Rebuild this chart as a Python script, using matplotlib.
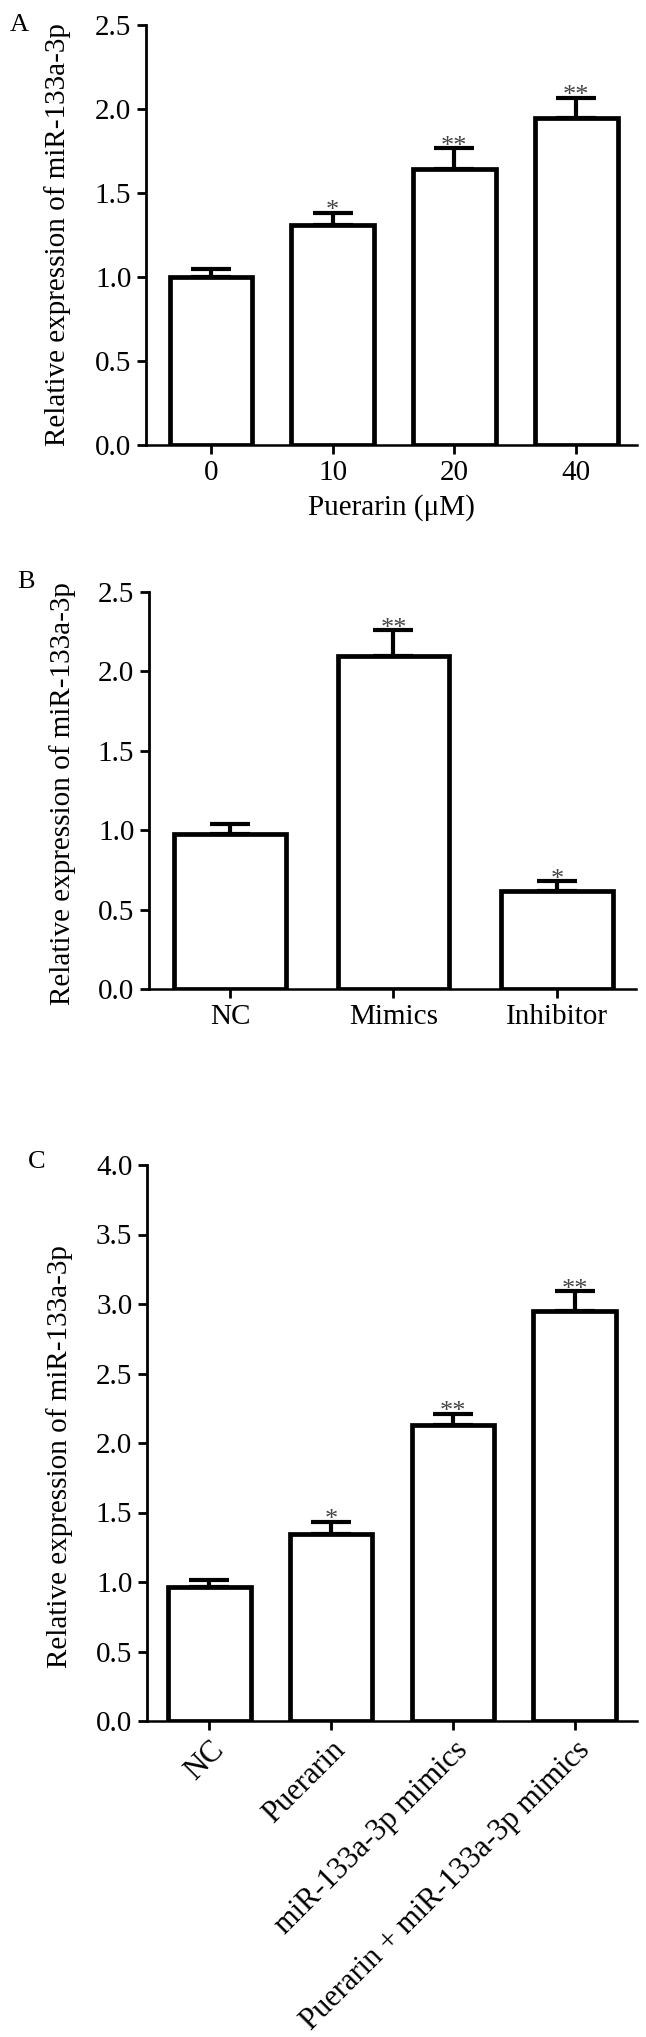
import numpy as np
import matplotlib
matplotlib.use("Agg")
import matplotlib.pyplot as plt

plt.rcParams["font.family"] = ["Liberation Serif", "DejaVu Serif"]

# -----------------------------
# Data
# -----------------------------
a_labels = ["0", "10", "20", "40"]
a_means = [1.00, 1.31, 1.64, 1.945]
a_err = [0.05, 0.07, 0.125, 0.12]
a_stars = ["", "*", "**", "**"]

b_labels = ["NC", "Mimics", "Inhibitor"]
b_means = [0.978, 2.10, 0.617]
b_err = [0.06, 0.158, 0.06]
b_stars = ["", "**", "*"]

c_labels = ["NC", "Puerarin", "miR-133a-3p mimics", "Puerarin + miR-133a-3p mimics"]
c_means = [0.965, 1.345, 2.13, 2.95]
c_err = [0.05, 0.09, 0.08, 0.14]
c_stars = ["", "*", "**", "**"]

ylab = "Relative expression of miR-133a-3p"

W, H = 646, 2037
fig = plt.figure(figsize=(W / 100, H / 100), dpi=100)


def px_rect(left, right, top, bottom):
    return [left / W, 1 - bottom / H, (right - left) / W, (bottom - top) / H]


def draw_panel(rect, labels, means, err, stars, ymax, xlim, tick_fs, rotate=False):
    ax = fig.add_axes(rect)
    x = np.arange(len(means))
    ax.bar(x, means, width=0.68, color="white", edgecolor="black",
           linewidth=3.4, zorder=3)
    ax.errorbar(x, means, yerr=[np.zeros(len(err)), err], fmt="none",
                ecolor="black", elinewidth=3.0, capsize=14.5, capthick=3.0,
                zorder=2)
    for xi, m, e, s in zip(x, means, err, stars):
        if s:
            ax.annotate(s, (xi, m + e), xytext=(0, -3), textcoords="offset points",
                        ha="center", va="baseline", fontsize=19, color="#444444")
    ax.set_xlim(*xlim)
    ax.set_ylim(0, ymax)
    yt = np.arange(0, ymax + 0.01, 0.5)
    ax.set_yticks(yt)
    ax.set_yticklabels([f"{v:.1f}" for v in yt])
    ax.set_xticks(x)
    for side in ["top", "right"]:
        ax.spines[side].set_visible(False)
    ax.spines["left"].set_linewidth(2.0)
    ax.spines["bottom"].set_linewidth(1.8)
    ax.tick_params(axis="both", width=2.0, length=6.5, labelsize=tick_fs, pad=4)
    if rotate:
        ax.set_xticklabels(labels, rotation=45, ha="right",
                           rotation_mode="anchor", fontsize=22)
    else:
        ax.set_xticklabels(labels, fontsize=tick_fs)
    return ax


# Panel A
ax_a = draw_panel(px_rect(146, 637, 25, 445), a_labels, a_means, a_err, a_stars,
                  2.5, (-0.534, 3.50), 21)
ax_a.set_xlabel("Puerarin (\u03bcM)", fontsize=21, labelpad=6)
fig.text(58 / W, 1 - 235 / H, ylab, rotation=90, ha="center", va="center", fontsize=21)
fig.text(10 / W, 1 - 14 / H, "A", ha="left", va="top", fontsize=19)

# Panel B
ax_b = draw_panel(px_rect(149, 636, 592, 989), b_labels, b_means, b_err, b_stars,
                  2.5, (-0.495, 2.483), 21)
fig.text(63 / W, 1 - 794 / H, ylab, rotation=90, ha="center", va="center", fontsize=21)
fig.text(17 / W, 1 - 571 / H, "B", ha="left", va="top", fontsize=19)

# Panel C
ax_c = draw_panel(px_rect(147, 637, 1165, 1721), c_labels, c_means, c_err, c_stars,
                  4.0, (-0.51, 3.51), 21, rotate=True)
fig.text(60 / W, 1 - 1457 / H, ylab, rotation=90, ha="center", va="center", fontsize=21)
fig.text(28 / W, 1 - 1151 / H, "C", ha="left", va="top", fontsize=19)

fig.savefig("out.png", dpi=100)
